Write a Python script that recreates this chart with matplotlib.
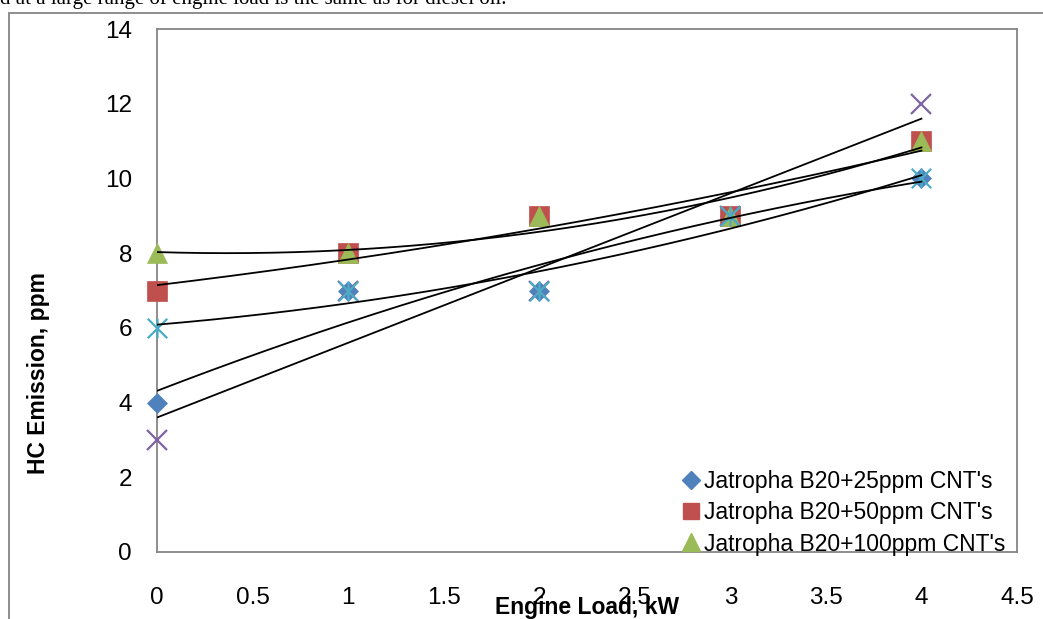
import numpy as np
import matplotlib
matplotlib.use("Agg")
import matplotlib.pyplot as plt
from matplotlib.path import Path
from matplotlib.lines import Line2D
from matplotlib.patches import Rectangle

# ---- data ----
engine_load = [0, 1, 2, 3, 4]
hc_25ppm = [4, 7, 7, 9, 10]
hc_50ppm = [7, 8, 9, 9, 11]
hc_100ppm = [8, 8, 9, 9, 11]
hc_series4 = [3, 7, 7, 9, 12]
hc_series5 = [6, 7, 7, 9, 10]
legend_labels = ["Jatropha B20+25ppm CNT's", "Jatropha B20+50ppm CNT's",
                 "Jatropha B20+100ppm CNT's"]
x_ticks = [0, 0.5, 1, 1.5, 2, 2.5, 3, 3.5, 4, 4.5]
x_tick_labels = ["0", "0.5", "1", "1.5", "2", "2.5", "3", "3.5", "4", "4.5"]
y_ticks = [0, 2, 4, 6, 8, 10, 12, 14]
top_text = "d at a large range of engine load is the same as for diesel oil."

W, H = 1043, 619
fig = plt.figure(figsize=(W / 100, H / 100), dpi=100)
fig.patch.set_facecolor("white")

tick_font = ["Liberation Sans", "DejaVu Sans"]
gray = "#868686"

ax = fig.add_axes([157 / W, 1 - 552 / H, (1017 - 157) / W, (552 - 29) / H])
ax.set_xlim(0, 4.5)
ax.set_ylim(0, 14)
for s in ax.spines.values():
    s.set_color(gray)
    s.set_linewidth(1.3)

ax.set_xticks(x_ticks)
ax.set_xticklabels(x_tick_labels)
ax.set_yticks(y_ticks)
ax.set_yticklabels([str(v) for v in y_ticks])
ax.tick_params(axis="both", length=0, labelsize=17.5)
ax.tick_params(axis="y", pad=18)
ax.tick_params(axis="x", pad=25)
for lab in ax.get_xticklabels() + ax.get_yticklabels():
    lab.set_family(tick_font)

star_path = Path([(-1, -1), (1, 1), (-1, 1), (1, -1), (0, -1), (0, 1)],
                 [Path.MOVETO, Path.LINETO, Path.MOVETO, Path.LINETO,
                  Path.MOVETO, Path.LINETO])

series = [
    (hc_25ppm, "D", 10, "#4F81BD", True),
    (hc_50ppm, "s", 14, "#C0504D", True),
    (hc_100ppm, "^", 15, "#9BBB59", True),
    (hc_series4, "x", 14, "#8064A2", False),
    (hc_series5, star_path, 14, "#4BACC6", False),
]

xfit = np.linspace(0, 4, 200)
for i, (ys, mk, ms, col, filled) in enumerate(series):
    if filled:
        ax.plot(engine_load, ys, linestyle="none", marker=mk, markersize=ms,
                markerfacecolor=col, markeredgecolor=col, markeredgewidth=0.5,
                clip_on=False, zorder=3 + i * 0.01)
    else:
        ax.plot(engine_load, ys, linestyle="none", marker=mk, markersize=ms,
                markerfacecolor="none", markeredgecolor=col, markeredgewidth=1.6,
                clip_on=False, zorder=3 + i * 0.01)
for ys in [hc_25ppm, hc_50ppm, hc_100ppm, hc_series4, hc_series5]:
    coef = np.polyfit(engine_load, ys, 2)
    ax.plot(xfit, np.polyval(coef, xfit), color="black", lw=1.3, zorder=4)

handles = [
    Line2D([], [], linestyle="none", marker="D", markersize=9,
           markerfacecolor="#4F81BD", markeredgecolor="#4F81BD"),
    Line2D([], [], linestyle="none", marker="s", markersize=12,
           markerfacecolor="#C0504D", markeredgecolor="#C0504D"),
    Line2D([], [], linestyle="none", marker="^", markersize=13,
           markerfacecolor="#9BBB59", markeredgecolor="#9BBB59"),
]
leg = fig.legend(handles, legend_labels, loc="upper left",
                 bbox_to_anchor=(682 / W, 1 - 470 / H),
                 bbox_transform=fig.transFigure, frameon=False,
                 borderpad=0, borderaxespad=0, handlelength=0.75,
                 handletextpad=0.2, labelspacing=0.36,
                 prop={"family": "Liberation Sans", "size": 16.5})
leg.set_zorder(10)

fig.text(39 / W, 1 - 373 / H, "HC Emission, ppm", rotation=90,
         ha="center", va="center", fontsize=16.5, fontweight="bold",
         family=tick_font)
fig.text(587 / W, 1 - 614 / H, "Engine Load, kW", ha="center",
         va="baseline", fontsize=16.5, fontweight="bold", family=tick_font,
         zorder=10)

fig.text(0, 1 - 4 / H, top_text, ha="left", va="baseline",
         fontsize=15, family=["Liberation Serif", "DejaVu Serif"])

fig.patches.append(Rectangle((9 / W, -0.2), 1.5, 1.2 - 13 / H,
                             transform=fig.transFigure, fill=False,
                             edgecolor=gray, lw=1.3))

fig.savefig("out.png", dpi=100)
